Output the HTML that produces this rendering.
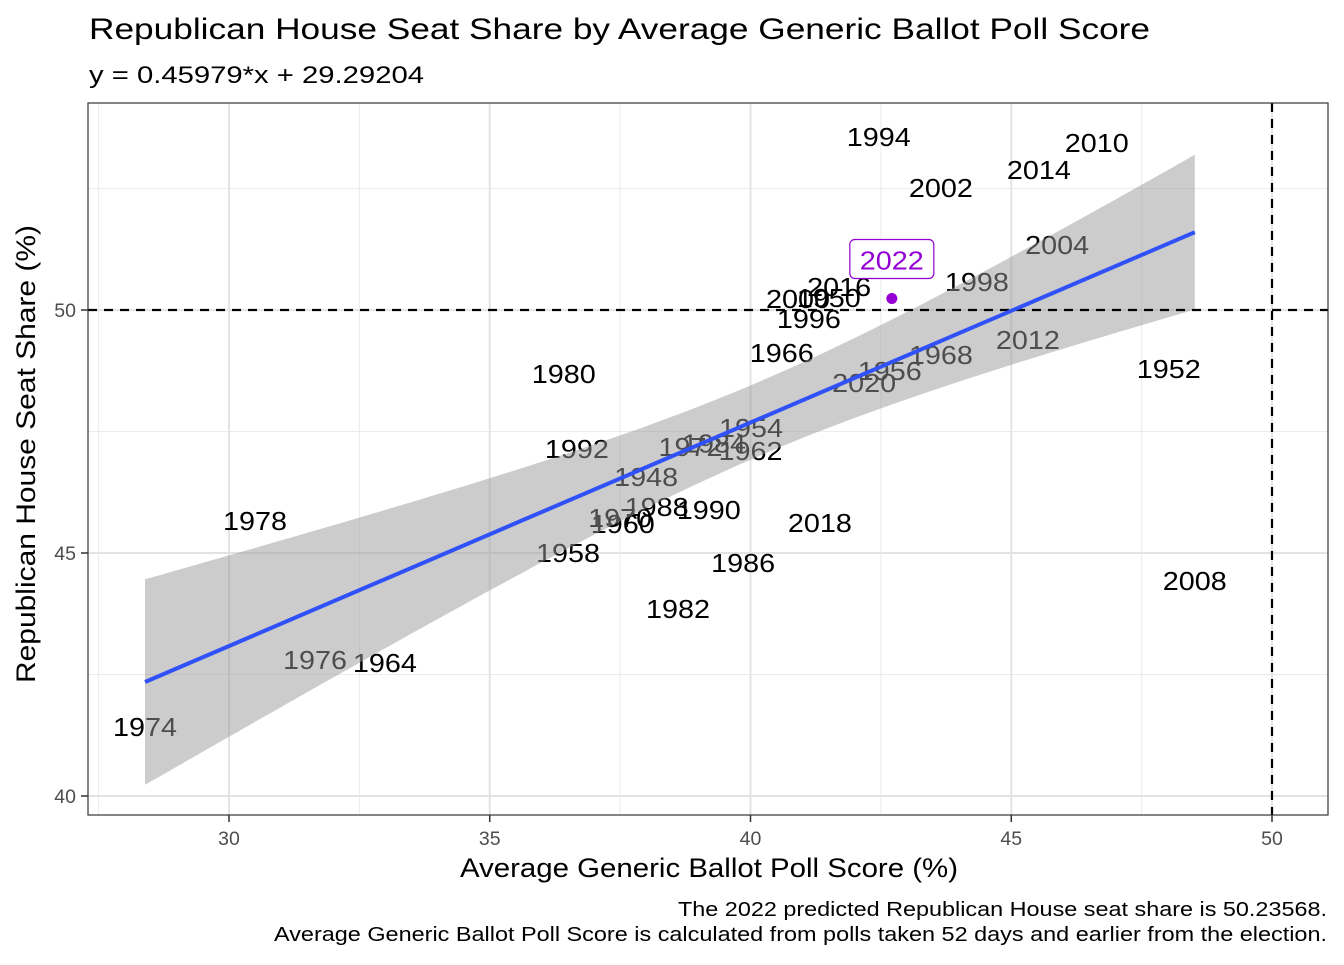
<!DOCTYPE html>
<html><head><meta charset="utf-8"><style>
body{margin:0;background:#fff;font-family:"Liberation Sans",Arial,sans-serif}
svg text{font-family:"Liberation Sans",Arial,sans-serif}
</style></head><body>
<svg id="chart" width="1344" height="960" viewBox="0 0 1344 960">
<text x="89" y="39" font-size="30" fill="#000" textLength="1061" lengthAdjust="spacingAndGlyphs">Republican House Seat Share by Average Generic Ballot Poll Score</text>
<text x="89" y="83" font-size="24" fill="#000" textLength="335" lengthAdjust="spacingAndGlyphs">y = 0.45979*x + 29.29204</text>
<rect x="88" y="103" width="1240" height="712" fill="#fff" stroke="none"/>
<g id="grid"></g>
<g id="labels"></g>
<g id="band"></g>
<g id="overlay"></g>
<rect x="88" y="103" width="1240" height="712" fill="none" stroke="#333" stroke-width="1.2"/>
<g id="axes"></g>
<text x="709" y="877" font-size="27" text-anchor="middle" textLength="498" lengthAdjust="spacingAndGlyphs">Average Generic Ballot Poll Score (%)</text>
<text transform="translate(35,454) rotate(-90)" font-size="27" text-anchor="middle" textLength="458" lengthAdjust="spacingAndGlyphs">Republican House Seat Share (%)</text>
<text x="1327" y="916" font-size="20" text-anchor="end" textLength="649" lengthAdjust="spacingAndGlyphs">The 2022 predicted Republican House seat share is 50.23568.</text>
<text x="1327" y="941" font-size="20" text-anchor="end" textLength="1053" lengthAdjust="spacingAndGlyphs">Average Generic Ballot Poll Score is calculated from polls taken 52 days and earlier from the election.</text>
</svg>
<script>
const years = ["1994","2010","2014","2002","2004","1998","2016","2000","1950","1996","1966","1968","2012","1956","2020","1952","1980","1954","1972","1984","1962","1992","1948","1988","1990","1970","1960","1978","2018","1958","1986","2008","1982","1976","1964","1974"];
const pollScore = [42.46,46.64,45.53,43.65,45.88,44.34,41.70,40.91,41.50,41.12,40.60,43.65,45.32,42.67,42.18,48.02,36.42,40.01,38.85,39.30,40.0,36.67,38.00,38.20,39.20,37.50,37.55,30.50,41.33,36.50,39.86,48.52,38.61,31.65,32.99,28.39];
const seatShare = [53.56,53.44,52.88,52.51,51.34,50.58,50.47,50.23,50.25,49.81,49.12,49.07,49.38,48.74,48.50,48.79,48.68,47.57,47.18,47.25,47.10,47.14,46.56,45.95,45.88,45.72,45.60,45.66,45.62,45.00,44.79,44.42,43.85,42.80,42.74,41.42];
const predX = [42.71];
const predY = [50.236];
const slope = 0.45979, intercept = 29.29204;
const xTicks = [30,35,40,45,50];
const yTicks = [40,45,50];

const X = v => 229 + (v-30)*52.15;
const Y = v => 310 - (v-50)*48.6;
const NS = "http://www.w3.org/2000/svg";
function mk(tag, attrs, parent){const e=document.createElementNS(NS,tag);for(const k in attrs)e.setAttribute(k,attrs[k]);document.getElementById(parent).appendChild(e);return e;}

[27.5,32.5,37.5,42.5,47.5].forEach(v=>{const l=mk("line",{x1:X(v),x2:X(v),y1:103,y2:815,stroke:"#ebebeb","stroke-width":1},"grid");

});
[42.5,47.5,52.5].forEach(v=>{const l=mk("line",{x1:88,x2:1328,y1:Y(v),y2:Y(v),stroke:"#ebebeb","stroke-width":1},"grid");

});
xTicks.forEach(v=>{const l=mk("line",{x1:X(v),x2:X(v),y1:103,y2:815,stroke:"#e3e3e3","stroke-width":2},"grid");

});
yTicks.forEach(v=>{const l=mk("line",{x1:88,x2:1328,y1:Y(v),y2:Y(v),stroke:"#e3e3e3","stroke-width":2},"grid");

});

years.forEach((yr,i)=>{const t=mk("text",{x:X(pollScore[i]),y:Y(seatShare[i])+9,"font-size":26,"text-anchor":"middle",fill:"#000",textLength:64,lengthAdjust:"spacingAndGlyphs"},"labels");
t.textContent=yr;

});

const n=pollScore.length;
const xm=pollScore.reduce((a,b)=>a+b,0)/n;
let sxx=0,sse=0;
pollScore.forEach((x,i)=>{sxx+=(x-xm)**2;const r=seatShare[i]-(slope*x+intercept);sse+=r*r;});
const s=Math.sqrt(sse/(n-2)), tq=2.03;
const xmin=Math.min(...pollScore), xmax=Math.max(...pollScore);
let up=[],lo=[];
for(let k=0;k<=80;k++){const x=xmin+(xmax-xmin)*k/80;const yh=slope*x+intercept;const h=tq*s*Math.sqrt(1/n+(x-xm)**2/sxx);
up.push(X(x).toFixed(1)+","+Y(yh+h).toFixed(1));lo.unshift(X(x).toFixed(1)+","+Y(yh-h).toFixed(1));}
const band=mk("polygon",{points:up.concat(lo).join(" "),fill:"#999",opacity:0.5},"band");



const hl=mk("line",{x1:88,x2:1328,y1:Y(50),y2:Y(50),stroke:"#000","stroke-width":2.2,"stroke-dasharray":"9,7"},"overlay");


const vl=mk("line",{x1:X(50),x2:X(50),y1:103,y2:815,stroke:"#000","stroke-width":2.2,"stroke-dasharray":"9,7"},"overlay");



const rl=mk("line",{x1:X(xmin),y1:Y(slope*xmin+intercept),x2:X(xmax),y2:Y(slope*xmax+intercept),stroke:"#3050f8","stroke-width":4},"overlay");



const pc=mk("circle",{cx:X(predX[0]),cy:Y(predY[0]),r:5.5,fill:"#9400d3"},"overlay");


const lx=X(predX[0])-0, ly=Y(predY[0])-37;
const pb=mk("rect",{x:lx-42,y:ly-22,width:84,height:39,rx:5,fill:"#fff",stroke:"#9400d3","stroke-width":1.2},"overlay");


const pt=mk("text",{x:lx,y:ly+8,"font-size":26,"text-anchor":"middle",fill:"#9400d3",textLength:64,lengthAdjust:"spacingAndGlyphs"},"overlay");
pt.textContent="2022";



xTicks.forEach(v=>{const l=mk("line",{x1:X(v),x2:X(v),y1:815,y2:822,stroke:"#333","stroke-width":1.5},"axes");


const t=mk("text",{x:X(v),y:845,"font-size":19.5,"text-anchor":"middle",fill:"#4d4d4d"},"axes");
t.textContent=v;

});
yTicks.forEach(v=>{const l=mk("line",{x1:81,x2:88,y1:Y(v),y2:Y(v),stroke:"#333","stroke-width":1.5},"axes");


const t=mk("text",{x:76,y:Y(v)+7,"font-size":19.5,"text-anchor":"end",fill:"#4d4d4d"},"axes");
t.textContent=v;

});
</script>
</body></html>
